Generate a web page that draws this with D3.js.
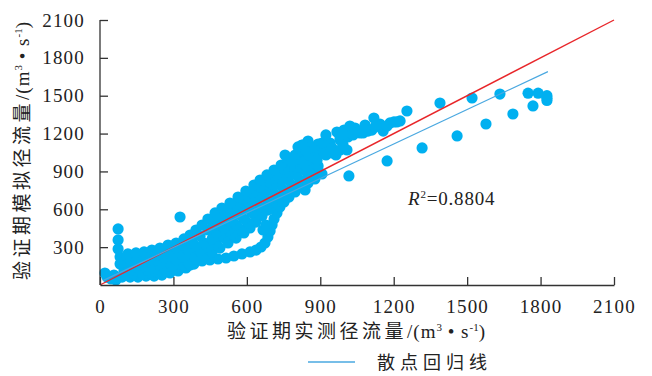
<!DOCTYPE html>
<html><head><meta charset="utf-8">
<script src="https://cdn.jsdelivr.net/npm/d3@7"></script>
<style>html,body{margin:0;padding:0;background:#fff}</style>
</head><body>
<svg id="chart" width="652" height="376"></svg>
<script>
// tick labels
const xTicks = [0, 300, 600, 900, 1200, 1500, 1800, 2100];
const yTicks = [300, 600, 900, 1200, 1500, 1800, 2100];

// [observed, simulated] runoff pairs, m3/s
const lowFlowCluster = [[20,95],[29,63],[45,48],[57,79],[65,40],[74,444],[74,357],[74,285],[82,222],[82,166]];
const bandLower = [[90,63],[123,63],[155,63],[188,71],[221,71],[253,79],[286,95],[319,111],[351,135],[384,166],[417,190],[449,198],[482,206],[515,214],[547,230],[580,246],[613,262],[638,277],[658,301],[674,333],[686,380],[695,428],[703,475],[711,523],[723,571],[735,618],[752,658],[772,697],[797,737],[821,777],[850,808],[878,840],[907,880],[666,436],[678,475]];
const bandBase = [[106,87],[139,87],[172,87],[204,95],[237,103],[270,111],[302,127],[335,143],[368,158]];
const bandMidLow = [[98,111],[131,119],[163,119],[196,119],[229,127],[261,135],[294,151],[327,166],[360,182],[392,206],[425,230],[458,262],[490,293],[523,333],[556,372],[588,412],[613,452],[637,499],[662,547],[686,594],[711,642],[735,689],[760,729]];
const bandLowInner = [[114,151],[147,151],[180,151],[212,158],[245,174],[278,190],[311,206]];
const bandMid = [[245,166],[278,182],[311,198],[343,222],[376,246],[409,269],[441,301],[474,333],[507,372],[539,404],[572,444],[605,491],[637,547],[670,598],[703,658]];
const bandMidHigh = [[98,182],[131,182],[163,182],[196,190],[229,198],[261,214],[294,230],[327,254],[360,277],[392,309],[425,333],[458,365],[490,396],[523,436],[556,475],[588,523],[621,571],[654,618],[686,666],[719,713],[752,753],[784,792],[817,832],[850,872],[882,911]];
const bandUpInner = [[114,214],[147,214],[180,222],[212,230],[245,246],[278,269],[311,293]];
const bandRising = [[474,412],[507,452],[539,507],[572,555],[605,602],[637,650],[670,697],[703,745],[735,792],[768,832],[801,872],[833,911],[866,951]];
const bandHigh = [[343,317],[376,349],[409,388],[441,436],[474,475],[507,515],[539,563],[572,610],[605,658],[637,705],[670,753],[703,800],[735,848],[768,896],[801,935],[833,975],[866,1014],[899,1054]];
const bandHigher = [[458,499],[490,547],[523,586],[556,634],[588,682],[621,729],[654,777],[686,824],[719,872],[752,919],[784,959],[817,999],[850,1030]];
const bandUpper = [[114,246],[147,254],[180,262],[212,277],[245,293],[278,317],[311,333],[343,365],[368,396],[392,436],[417,475],[441,523],[470,571],[498,610],[531,650],[564,697],[596,745],[629,792],[654,832],[682,872],[711,911],[740,951],[768,991],[797,1030],[825,1062],[858,1086],[891,1117],[923,1141]];
const highFlow = [[327,539],[838,753],[842,943],[874,967],[866,911],[891,943],[756,1030],[784,975],[825,1109],[899,1046],[948,1046],[981,1149],[1013,1173],[1062,1205],
  [809,1094],[850,1141],[878,1070],[911,1086],[940,1125],[968,1212],[964,1030],[923,1030],[997,1228],[981,1070],[1042,1244],[1083,1268],[1144,1276],[1157,1220],
  [829,1109],[846,1054],[870,1006],[887,991],[907,1125],[923,1189],[948,1086],[952,1054],[981,1165],[993,1109],[1009,1070],[1021,1260],[1034,1189],[1054,1212],[1075,1205],[1095,1220],[1111,1228],[1119,1323],[1124,1252],[1173,1260],[1185,1284],[1201,1292],[1213,1292],[1226,1300],[1254,1379]];
const peakFlow = [[1017,864],[1173,983],[1316,1086],[1459,1181],[1577,1276],[1687,1355],[1769,1419],[1826,1462],[1826,1480],[1826,1500],[1790,1520],[1749,1520],[1634,1513],[1520,1482],[1389,1442]];

const parityLine = [[0, 0], [2100, 2100]];
const fitLine = [[12, 35], [1830, 1691]];
const rSquared = "0.8804";

const points = [].concat(lowFlowCluster, bandLower, bandBase, bandMidLow, bandLowInner, bandMid, bandMidHigh, bandUpInner,
  bandRising, bandHigh, bandHigher, bandUpper, highFlow, peakFlow);

const svg = d3.select("#chart");
const x = d3.scaleLinear().domain([0, 2100]).range([100, 614]);
const y = d3.scaleLinear().domain([0, 2100]).range([285, 20]);

const serif = '"Liberation Serif", "Times New Roman", serif';
const cjk = '"Noto Sans CJK SC", sans-serif';

// scatter
svg.append("g").selectAll("circle").data(points).join("circle")
  .attr("cx", d => x(d[0])).attr("cy", d => y(d[1])).attr("r", 5.6)
  .attr("fill", "#00b0f0");

// 1:1 line and fitted line
const line = d3.line().x(d => x(d[0])).y(d => y(d[1]));
svg.append("path").attr("d", line(parityLine)).attr("stroke", "#e8262a").attr("stroke-width", 1.4).attr("fill", "none");
svg.append("path").attr("d", line(fitLine)).attr("stroke", "#4aa8e0").attr("stroke-width", 1.2).attr("fill", "none");

// axes
const xAxis = svg.append("g").attr("transform", "translate(0,285)")
  .call(d3.axisBottom(x).tickValues(xTicks).tickSize(-8).tickSizeOuter(0).tickPadding(15).tickFormat(d3.format("d")));
const yAxis = svg.append("g").attr("transform", "translate(100,0)")
  .call(d3.axisLeft(y).tickValues(yTicks).tickSize(-8).tickSizeOuter(0).tickPadding(15).tickFormat(d3.format("d")));
[xAxis, yAxis].forEach(g => {
  g.select(".domain").attr("stroke", "#333").attr("stroke-width", 1.3);
  g.selectAll(".tick line").attr("stroke", "#333").attr("stroke-width", 1.3);
  g.selectAll(".tick text").attr("fill", "#222").attr("font-family", serif).attr("font-size", 19).style("letter-spacing", "1.2px");
});
yAxis.select(".domain").attr("d", "M0," + y(2100) + "V" + y(0));

// axis titles with unit superscripts
function unitTitle(sel, label) {
  sel.append("tspan").attr("font-family", cjk).style("letter-spacing", "3.5px").text(label);
  sel.append("tspan").attr("font-family", serif).style("letter-spacing", "1px").text("/(m");
  sel.append("tspan").attr("font-family", serif).attr("font-size", 11).attr("dy", -7).text("3");
  sel.append("tspan").attr("font-family", serif).style("letter-spacing", "1px").attr("dy", 7).text(" • s");
  sel.append("tspan").attr("font-family", serif).attr("font-size", 11).attr("dy", -7).text("-1");
  sel.append("tspan").attr("font-family", serif).attr("dy", 7).text(")");
}
const xt = svg.append("text").attr("x", 356).attr("y", 338).attr("text-anchor", "middle")
  .attr("font-size", 19).attr("fill", "#222");
unitTitle(xt, "验证期实测径流量");
const yt = svg.append("text").attr("transform", "translate(29,151) rotate(-90)").attr("text-anchor", "middle")
  .attr("font-size", 19).attr("fill", "#222");
unitTitle(yt, "验证期模拟径流量");

// R² annotation
const rt = svg.append("text").attr("x", 408).attr("y", 205).attr("font-family", serif).attr("font-size", 19).attr("fill", "#222").style("letter-spacing", "0.8px");
rt.append("tspan").attr("font-style", "italic").text("R");
rt.append("tspan").attr("font-size", 11).attr("dy", -7).text("2");
rt.append("tspan").attr("dy", 7).text("=" + rSquared);

// legend
svg.append("line").attr("x1", 308).attr("x2", 355).attr("y1", 362).attr("y2", 362).attr("stroke", "#4aa8e0").attr("stroke-width", 1.3);
svg.append("text").attr("x", 377).attr("y", 369).attr("font-family", cjk).attr("font-size", 18).attr("fill", "#222").style("letter-spacing", "5px").text("散点回归线");
</script></body></html>
